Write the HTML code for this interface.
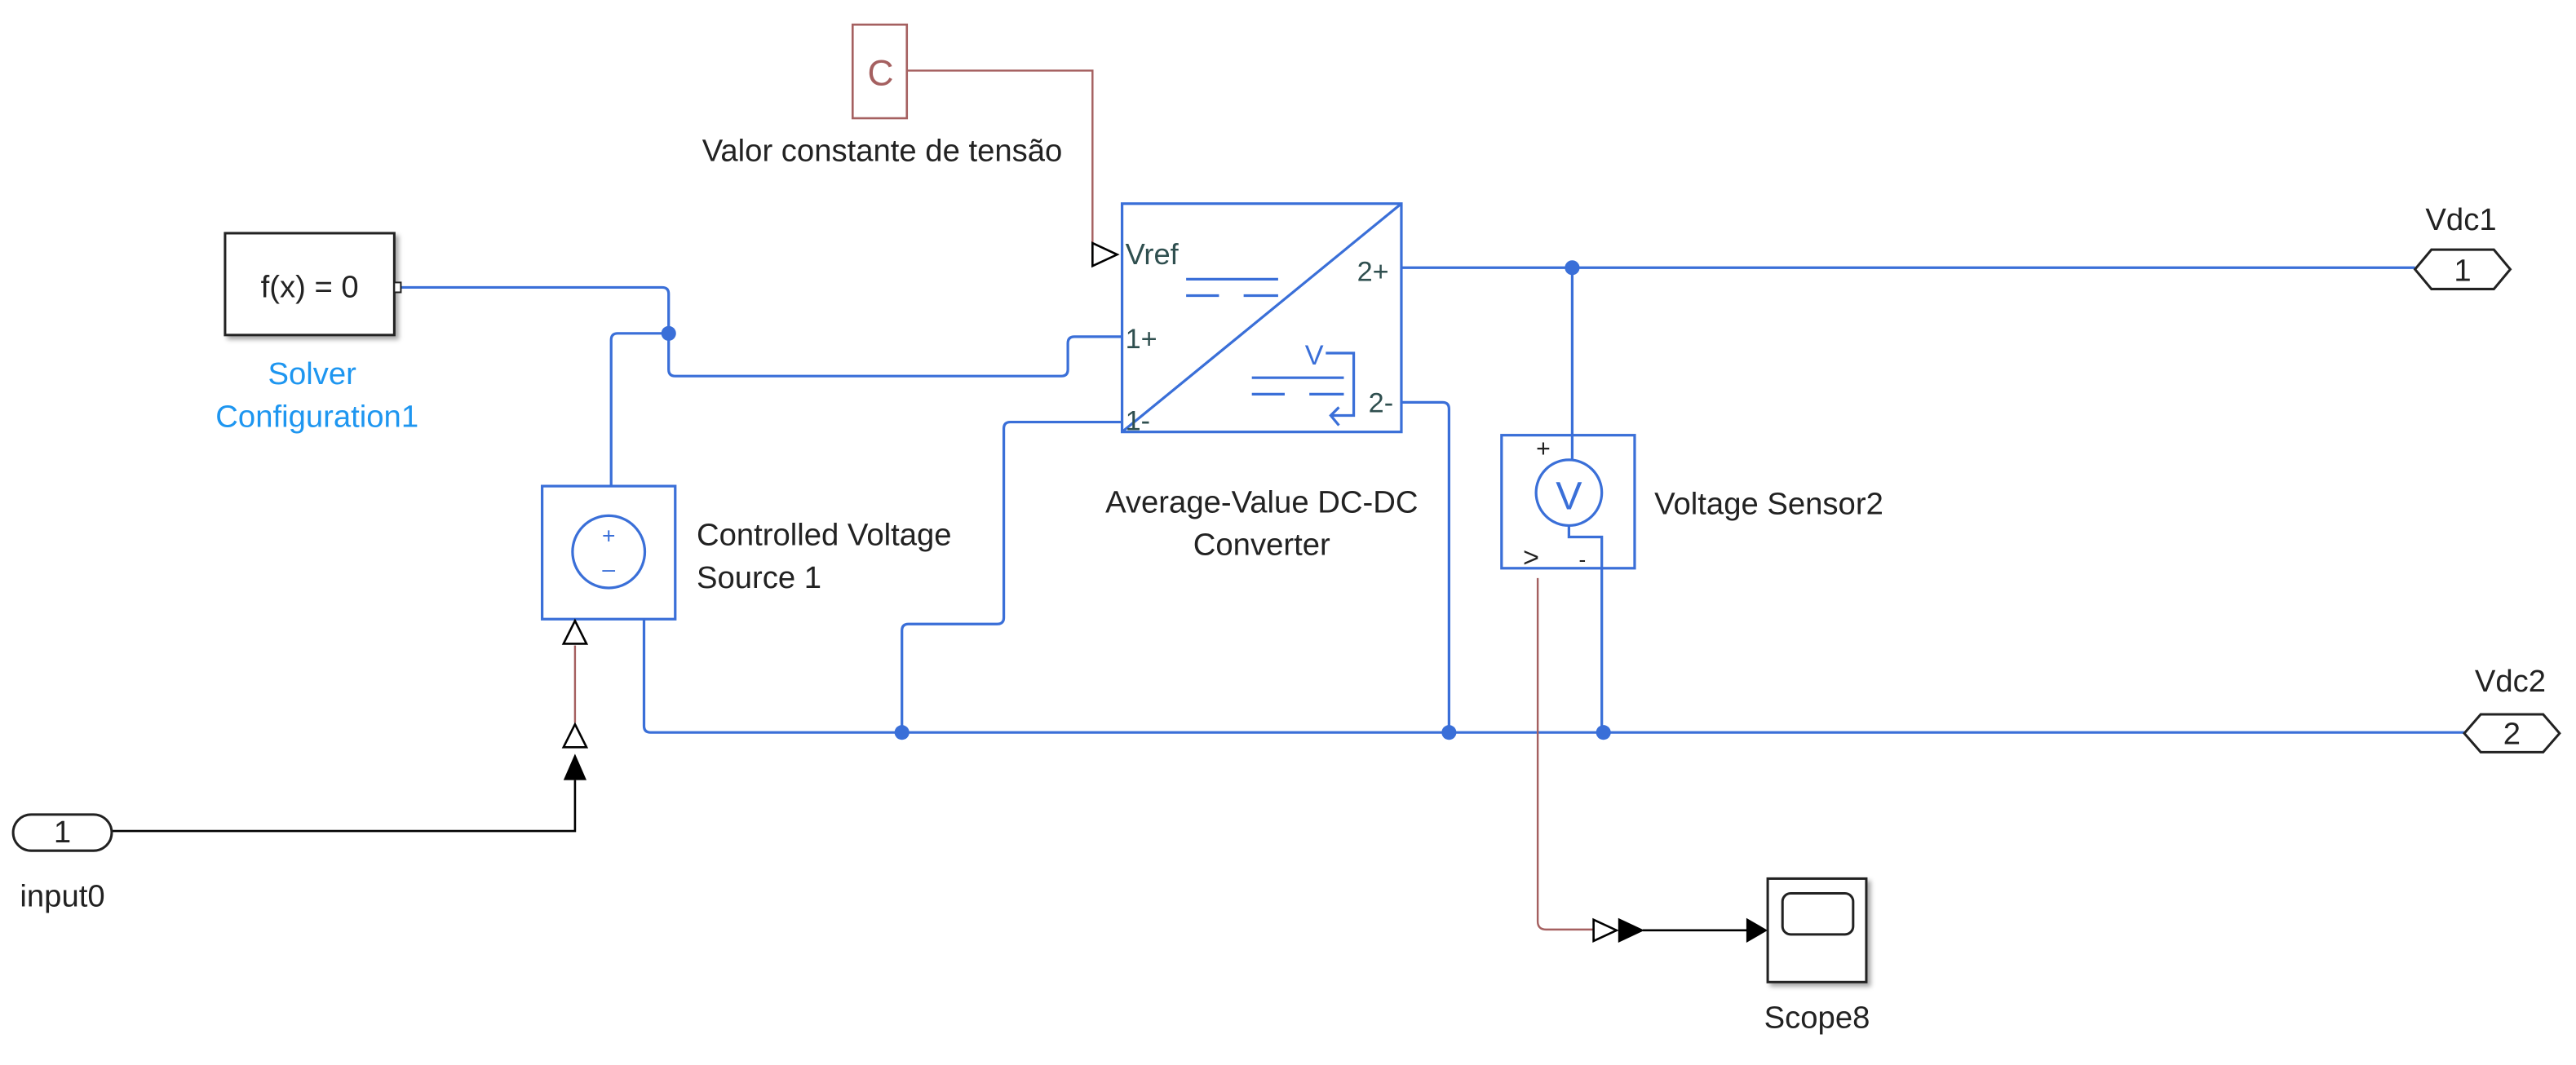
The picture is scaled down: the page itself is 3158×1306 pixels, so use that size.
<!DOCTYPE html>
<html><head><meta charset="utf-8"><style>
html,body{margin:0;padding:0;background:#fff;}
svg{display:block;}
text{font-family:"Liberation Sans",Arial,sans-serif;}
</style></head><body>
<svg width="3158" height="1306" viewBox="0 0 1568 648.5" preserveAspectRatio="none" xmlns="http://www.w3.org/2000/svg">
<defs>
<filter id="sh" x="-10%" y="-10%" width="130%" height="130%"><feDropShadow dx="2" dy="2" stdDeviation="1.5" flood-color="#000" flood-opacity="0.35"/></filter>
</defs>
<g fill="none" stroke="#3a6fd8" stroke-width="1.6">
<path d="M244 175 H403 Q407 175 407 179 V225 Q407 229 411 229 H646 Q650 229 650 225 V209 Q650 205 654 205 H683"/>
<path d="M407 203 H376 Q372 203 372 207 V296"/>
<path d="M392 377 V442 Q392 446 396 446 H1500"/>
<path d="M549 446 V384 Q549 380 553 380 H607 Q611 380 611 376 V261 Q611 257 615 257 H683"/>
<path d="M853 245 H878 Q882 245 882 249 V446"/>
<path d="M853 163 H1470"/>
<path d="M957 163 V280"/>
<path d="M955 320 V327 H975 V446"/>
<rect x="330" y="296" width="81" height="81"/>
<circle cx="370.5" cy="336" r="22"/>
<rect x="683" y="124" width="170" height="139"/>
<path d="M683 263 L853 124"/>
<path d="M722 170 H778 M722 180 H742 M757 180 H778"/>
<path d="M762 230 H818 M762 240 H782 M797 240 H818"/>
<path d="M807 215 H824 V253 H810 M815 248 L810 253 L815 259"/>
<rect x="914" y="265" width="81" height="81"/>
<circle cx="955" cy="300" r="20"/>
</g>
<g fill="#3a6fd8">
<circle cx="407" cy="203" r="4.5"/>
<circle cx="957" cy="163" r="4.5"/>
<circle cx="549" cy="446" r="4.5"/>
<circle cx="882" cy="446" r="4.5"/>
<circle cx="976" cy="446" r="4.5"/>
</g>
<g fill="#3a6fd8" font-size="14" text-anchor="middle">
<text x="370.5" y="331">+</text>
<text x="370.5" y="351">–</text>
<text x="955" y="310" font-family="Liberation Serif,serif" font-size="24">V</text>
<text x="800" y="222" font-size="17">V</text>
</g>
<g fill="#2f4f4f" font-size="17">
<text x="685" y="161" font-size="18">Vref</text>
<text x="685" y="212">1+</text>
<text x="685" y="262">1-</text>
<text x="826" y="171">2+</text>
<text x="833" y="251">2-</text>
<text x="935" y="278" fill="#222" font-size="15">+</text>
<text x="927" y="345" fill="#222" font-size="17">&gt;</text>
<text x="961" y="345" fill="#222" font-size="13">-</text>
</g>
<g fill="none" stroke="#a56060" stroke-width="1.2">
<path d="M552 43 H665 V155"/>
<path d="M350 393 V440"/>
<path d="M936 352 V561 Q936 566 941 566 H970"/>
</g>
<g fill="none" stroke="#000" stroke-width="1.3">
<path d="M665 148 L680 155 L665 162 Z" fill="#fff"/>
<path d="M343 392 L350 378 L357 392 Z" fill="#fff"/>
<path d="M343 455 L350 441 L357 455 Z" fill="#fff"/>
<path d="M970 560 L984 566.5 L970 573 Z" fill="#fff"/>
<path d="M350 475 V506 H68"/>
<path d="M1000 566.5 H1066"/>
</g>
<g fill="#000">
<path d="M343 475 L350 459 L357 475 Z"/>
<path d="M985 559 L1001 566.5 L985 574 Z"/>
<path d="M1063 559 L1076 566.5 L1063 574 Z"/>
</g>
<g fill="#fff" stroke="#222" stroke-width="1.5">
<rect x="137" y="142" width="103" height="62" filter="url(#sh)"/>
<rect x="240" y="172" width="4" height="6" stroke-width="1"/>
<rect x="1076" y="535" width="60" height="63" filter="url(#sh)"/>
<rect x="1085" y="544" width="43" height="25" rx="5"/>
<rect x="8" y="496" width="60" height="22" rx="11"/>
<path d="M1470 164 L1480 152 H1518 L1528 164 L1518 176 H1480 Z"/>
<path d="M1500 446.5 L1510 435 H1548 L1558 446.5 L1548 458 H1510 Z"/>
</g>
<g fill="#fff" stroke="#a56060" stroke-width="1.3">
<rect x="519" y="15" width="33" height="57"/>
</g>
<text x="536" y="52" font-size="22" fill="#a56060" text-anchor="middle" font-family="Liberation Serif,serif">C</text>
<g font-size="19" fill="#222">
<text x="188.5" y="181" text-anchor="middle">f(x) = 0</text>
<text x="38" y="513" text-anchor="middle">1</text>
<text x="1499" y="171" text-anchor="middle">1</text>
<text x="1529" y="453" text-anchor="middle">2</text>
<text x="1498" y="140" text-anchor="middle">Vdc1</text>
<text x="1528" y="421" text-anchor="middle">Vdc2</text>
<text x="38" y="552" text-anchor="middle">input0</text>
<text x="537" y="98" text-anchor="middle">Valor constante de tensão</text>
<text x="424" y="332">Controlled Voltage</text>
<text x="424" y="358">Source 1</text>
<text x="768" y="312" text-anchor="middle">Average-Value DC-DC</text>
<text x="768" y="338" text-anchor="middle">Converter</text>
<text x="1007" y="313">Voltage Sensor2</text>
<text x="1106" y="626" text-anchor="middle">Scope8</text>
<text x="190" y="234" text-anchor="middle" fill="#1e96f0">Solver</text>
<text x="193" y="260" text-anchor="middle" fill="#1e96f0">Configuration1</text>
</g>
</svg>
</body></html>
